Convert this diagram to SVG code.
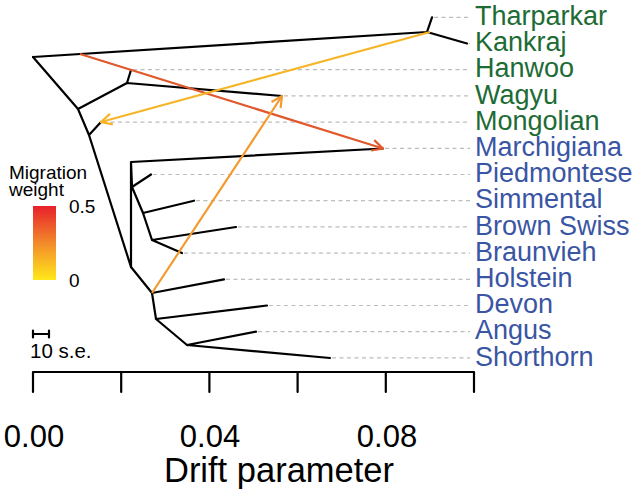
<svg xmlns="http://www.w3.org/2000/svg" width="641" height="497" viewBox="0 0 641 497">
<style>
.e{stroke:#000;stroke-width:2.2;fill:none;stroke-linecap:round;stroke-linejoin:round}
.d{stroke:#bdbdbd;stroke-width:1.2;stroke-dasharray:4 3.5;fill:none}
.lab{font-family:"Liberation Sans",Arial,sans-serif;font-size:27px}
.g{fill:#1d6b35}
.b{fill:#3a55a4}
.t{font-family:"Liberation Sans",Arial,sans-serif;font-size:19px;fill:#000}
.ax{font-family:"Liberation Sans",Arial,sans-serif;font-size:31px;fill:#000}
.xl{font-family:"Liberation Sans",Arial,sans-serif;font-size:34.5px;fill:#000}
.m{fill:none;stroke-width:2.2}
</style>
<defs>
<linearGradient id="grad" x1="0" y1="1" x2="0" y2="0">
<stop offset="0" stop-color="#ffe81a"/>
<stop offset="0.5" stop-color="#f28a2a"/>
<stop offset="1" stop-color="#e8202a"/>
</linearGradient>
<marker id="arR" viewBox="0 0 12 12" refX="11" refY="6" markerWidth="13" markerHeight="13" markerUnits="userSpaceOnUse" orient="auto">
<path d="M1,1 L11,6 L1,11" fill="none" stroke="#e0582c" stroke-width="2"/>
</marker>
<marker id="arY" viewBox="0 0 12 12" refX="11" refY="6" markerWidth="13" markerHeight="13" markerUnits="userSpaceOnUse" orient="auto">
<path d="M1,1 L11,6 L1,11" fill="none" stroke="#f6b526" stroke-width="2"/>
</marker>
<marker id="arO" viewBox="0 0 12 12" refX="11" refY="6" markerWidth="13" markerHeight="13" markerUnits="userSpaceOnUse" orient="auto">
<path d="M1,1 L11,6 L1,11" fill="none" stroke="#f29a30" stroke-width="2"/>
</marker>
</defs>
<rect width="641" height="497" fill="#fff"/>
<g id="guides">
<path class="d" d="M434,17.3H470M469,43.5H470M133,69.7H470M284,95.9H470M103,122.1H470M385,148.3H470M153,174.5H470M196,200.7H470M238,226.9H470M184,253.1H470M226,279.3H470M269,305.5H470M258,331.7H470M332,357.9H470"/>
</g>
<g id="connectors">
<path class="e" d="M33,57L427,32M427,32L432,17.3M427,32L467,43.5"/>
<path class="e" d="M33,57L78,109M78,109L127,83M127,83L131,70M127,83L282,96M78,109L89,135M89,135L101,122"/>
<path class="e" d="M89,135L131,267M131,267L131,162M131,162L383,148.5M131,162L132,187M132,187L151,174.5M132,187L143,213M143,213L194,200.7M143,213L152,240M152,240L236,227M152,240L182,253"/>
<path class="e" d="M131,267L152,293M152,293L224,279.3M152,293L156,319M156,319L267,305.5M156,319L187,345M187,345L256,331.7M187,345L330,358"/>
</g>
<g id="migrations">
<path class="m" stroke="#e0582c" d="M80,54L383,148.5" marker-end="url(#arR)"/>
<path class="m" stroke="#f6b526" d="M430,32L101,122" marker-end="url(#arY)"/>
<path class="m" stroke="#f29a30" d="M152,293L282,96" marker-end="url(#arO)"/>
</g>
<g id="labels">
<text class="lab g" x="475" y="25">Tharparkar</text>
<text class="lab g" x="475" y="51.2">Kankraj</text>
<text class="lab g" x="475" y="77.4">Hanwoo</text>
<text class="lab g" x="475" y="103.6">Wagyu</text>
<text class="lab g" x="475" y="129.8">Mongolian</text>
<text class="lab b" x="475" y="156">Marchigiana</text>
<text class="lab b" x="475" y="182.2">Piedmontese</text>
<text class="lab b" x="475" y="208.4">Simmental</text>
<text class="lab b" x="475" y="234.6">Brown Swiss</text>
<text class="lab b" x="475" y="260.8">Braunvieh</text>
<text class="lab b" x="475" y="287">Holstein</text>
<text class="lab b" x="475" y="313.2">Devon</text>
<text class="lab b" x="475" y="339.4">Angus</text>
<text class="lab b" x="475" y="365.6">Shorthorn</text>
</g>
<g id="legend">
<text class="t" x="9" y="179">Migration</text>
<text class="t" x="9" y="196">weight</text>
<rect x="33" y="206" width="23" height="74" fill="url(#grad)"/>
<text class="t" x="69" y="213">0.5</text>
<text class="t" x="69" y="287">0</text>
</g>
<g id="scalebar">
<path class="e" stroke-width="1.8" d="M33,334H49M33,330.5V337.5M49,330.5V337.5"/>
<text class="t" x="30" y="358" style="font-size:20.5px">10 s.e.</text>
</g>
<g id="axis">
<path class="e" d="M33,372H474M33,372V392M121.2,372V392M209.4,372V392M297.6,372V392M385.8,372V392M474,372V392"/>
<text class="ax" x="34" y="447" text-anchor="middle">0.00</text>
<text class="ax" x="210" y="447" text-anchor="middle">0.04</text>
<text class="ax" x="387" y="447" text-anchor="middle">0.08</text>
<text class="xl" x="279" y="482" text-anchor="middle">Drift parameter</text>
</g>
</svg>
